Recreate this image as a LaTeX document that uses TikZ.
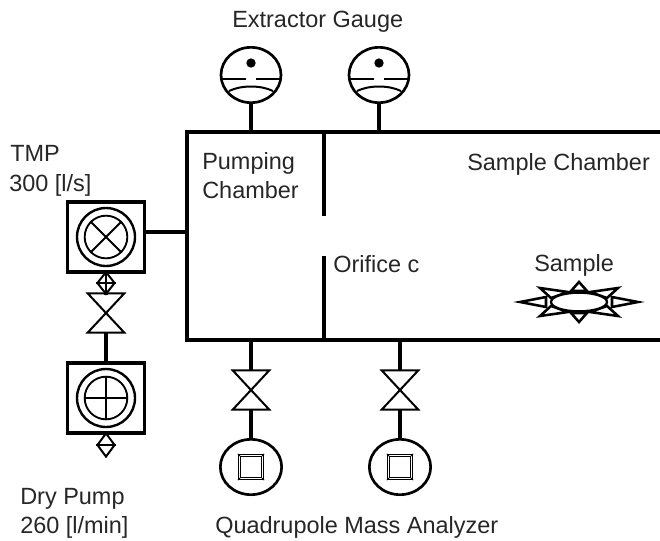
\documentclass[tikz,border=0pt]{standalone}
\usepackage{fontspec}
\setmainfont{Liberation Sans}
\usetikzlibrary{shapes.geometric}
\tikzset{
  x=0.75pt,y=-0.75pt,
  line/.style={draw=black,line width=2.3pt},
  thin line/.style={draw=black,line width=1.5pt},
  label text/.style={anchor=base west,inner sep=0pt,font=\fontsize{17.6}{21}\selectfont,text=black!85},
  round gauge/.style={ellipse,draw=black,line width=2pt,inner sep=0pt,minimum width=45pt,minimum height=41.5pt},
  pump box/.style={rectangle,line,inner sep=0pt,minimum width=58pt,minimum height=52.5pt},
  ring outer/.style={circle,draw=black,line width=1.8pt,inner sep=0pt,minimum size=43.5pt},
  ring inner/.style={circle,draw=black,line width=1.4pt,inner sep=0pt,minimum size=32pt},
  small diamond/.style={diamond,thin line,inner sep=0pt,minimum width=13.5pt,minimum height=17pt},
  valve box/.style={rectangle,inner sep=0pt,minimum width=27pt,minimum height=29pt},
  dot/.style={circle,fill=black,inner sep=0pt,minimum size=7pt},
  spike/.style={draw=black,line width=1.9pt,fill=white,line join=miter},
}
\newcommand{\valvesym}[2]{%
  \node[valve box] (#1) at (#2) {};
  \draw[thin line,line join=miter] (#1.north west) -- (#1.north east) -- (#1.south west) -- (#1.south east) -- cycle;
}
\begin{document}
\begin{tikzpicture}
\useasboundingbox (0,0) rectangle (660,540);
% chamber
\coordinate (ctr) at (660,132);
\coordinate (ctl) at (187,132);
\coordinate (cbl) at (187,340);
\coordinate (cbr) at (660,340);
\draw[line,line join=miter] (ctr) -- (ctl) -- (cbl) -- (cbr);
\coordinate (dt) at (324,132);
\coordinate (dte) at (324,216);
\coordinate (dbs) at (324,256);
\coordinate (db) at (324,340);
\draw[line] (dt) -- (dte);
\draw[line] (dbs) -- (db);
% gauges
\foreach \n/\cx in {ga/251,gb/379}{
  \node[round gauge] (\n) at (\cx,75) {};
  \node[dot] (\n d) at (\cx,63) {};
  \draw[thin line] (\cx-29,79) -- (\cx-5,79);
  \draw[thin line] (\cx+5,79) -- (\cx+29,79);
  \draw[thin line] (\cx-22,91) .. controls (\cx-10,85) and (\cx+10,85) .. (\cx+22,91);
  \coordinate (\n b) at (\cx,132);
  \draw[line] (\n) -- (\n b);
}
% TMP
\node[pump box] (tmp) at (106,237) {};
\node[ring outer] (tmpo) at (106,237) {};
\node[ring inner] (tmpi) at (106,237) {};
\draw[thin line] (tmpi.north west) -- (tmpi.south east);
\draw[thin line] (tmpi.north east) -- (tmpi.south west);
\coordinate (tmpc) at (187,232);
\draw[line] (tmp.east|-tmpc) -- (tmpc);
\node[small diamond] (da) at (106,283) {};
\draw[thin line] (da.west) -- (da.east);
\draw[thin line] (da.north) -- (da.south);
\draw[line] (tmp.south) -- (da.north);
% valve
\valvesym{vp}{106,313}
\draw[line] (da.south) -- (vp.north);
% dry pump
\node[pump box] (dry) at (106,398) {};
\node[ring outer] (dryo) at (106,398) {};
\node[ring inner] (dryi) at (106,398) {};
\draw[thin line] (dryi.west) -- (dryi.east);
\draw[thin line] (dryi.north) -- (dryi.south);
\draw[line] (vp.south) -- (dry.north);
\node[small diamond,minimum height=18pt] (db2) at (106,445) {};
\draw[thin line] (db2.west) -- (db2.east);
% analyzers
\foreach \n/\cx in {qa/251,qb/400}{
  \coordinate (\n t) at (\cx,340);
  \valvesym{\n v}{\cx,390}
  \node[round gauge,minimum width=46pt] (\n) at (\cx,467) {};
  \node[rectangle,draw=black,line width=.8pt,inner sep=0pt,minimum size=19pt] (\n s) at (\cx,467) {};
  \node[rectangle,draw=black,line width=.8pt,inner sep=0pt,minimum size=15.5pt] (\n i) at (\cx,467) {};
  \draw[line width=.6pt] (\n s.north west) -- (\n i.north west);
  \draw[line width=.6pt] (\n s.north east) -- (\n i.north east);
  \draw[line width=.6pt] (\n s.south west) -- (\n i.south west);
  \draw[line width=.6pt] (\n s.south east) -- (\n i.south east);
  \draw[line] (\n t) -- (\n v.north);
  \draw[line] (\n v.south) -- (\n.north);
}
% sample
\draw[spike] (520,302) -- (546,297) -- (546,307) -- cycle;
\draw[spike] (638,302) -- (612,297) -- (612,307) -- cycle;
\draw[spike] (579,282) -- (571,291) -- (587,291) -- cycle;
\draw[spike] (579,322) -- (571,313) -- (587,313) -- cycle;
\draw[spike] (540,288) -- (568,292) -- (551,298) -- cycle;
\draw[spike] (618,288) -- (590,292) -- (607,298) -- cycle;
\draw[spike] (540,316) -- (568,312) -- (551,306) -- cycle;
\draw[spike] (618,316) -- (590,312) -- (607,306) -- cycle;
\node[ellipse,draw=black,line width=1.7pt,fill=white,inner sep=0pt,minimum width=42pt,minimum height=14pt] (smp) at (579,302) {};
% labels
\node[label text] (l2) at (10,161) {TMP};
\node[label text] (l3) at (9,191) {300 [l/s]};
\node[label text] (l4) at (202,169) {Pumping};
\node[label text] (l5) at (202,198) {Chamber};
\node[label text] (l6) at (467,170) {Sample Chamber};
\node[label text] (l7) at (333,272) {Orifice c};
\node[label text] (l8) at (534,271) {Sample};
\node[label text] (l9) at (20,504) {Dry Pump};
\node[label text] (l10) at (20,533) {260 [l/min]};
\node[label text] (l11) at (215,533) {Quadrupole Mass Analyzer};
\node[label text] (l1) at (232,27) {Extractor Gauge};
\end{tikzpicture}
\end{document}
